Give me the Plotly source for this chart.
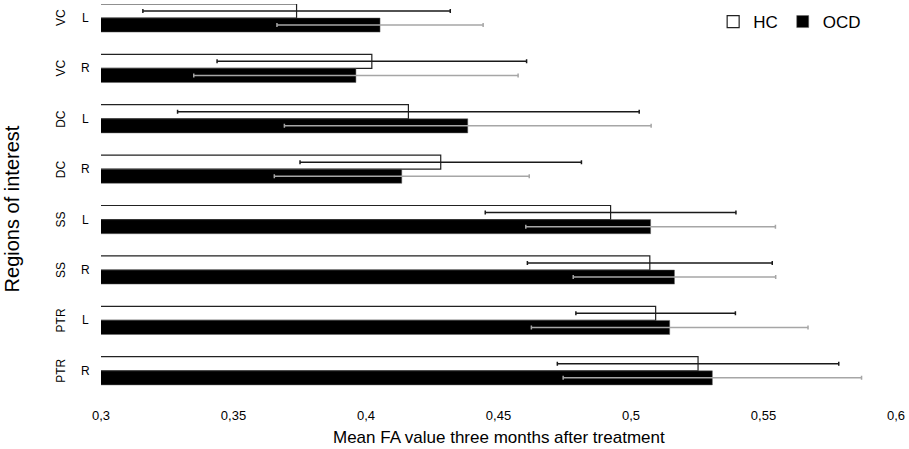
import plotly.graph_objects as go

# regions of interest, top to bottom
regions = ['VC', 'VC', 'DC', 'DC', 'SS', 'SS', 'PTR', 'PTR']
sides = ['L', 'R', 'L', 'R', 'L', 'R', 'L', 'R']
cats = [r + ' ' + s for r, s in zip(regions, sides)]

hc_mean = [0.3738, 0.4022, 0.4160, 0.4282, 0.4923, 0.5071, 0.5093, 0.5253]
hc_sd = [0.0580, 0.0584, 0.0871, 0.0531, 0.0473, 0.0462, 0.0301, 0.0531]
ocd_mean = [0.4053, 0.3962, 0.4384, 0.4135, 0.5074, 0.5164, 0.5146, 0.5307]
ocd_sd = [0.0389, 0.0612, 0.0692, 0.0481, 0.0471, 0.0382, 0.0522, 0.0563]

FONT = 'Liberation Sans, Arial, sans-serif'

fig = go.Figure()

fig.add_trace(go.Bar(
    y=cats, x=hc_mean, name='HC', orientation='h',
    marker=dict(color='white', line=dict(color='#222222', width=1.2)),
    error_x=dict(type='data', array=hc_sd, color='#1a1a1a', thickness=1.5, width=2)))

fig.add_trace(go.Bar(
    y=cats, x=ocd_mean, name='OCD', orientation='h',
    marker=dict(color='black', line=dict(color='#666666', width=0.5)),
    error_x=dict(type='data', array=ocd_sd, color='#a6a6a6', thickness=1.5, width=2)))

# two-part category labels: rotated region name + horizontal side
for c, r, s in zip(cats, regions, sides):
    fig.add_annotation(x=0, xref='paper', y=c, yref='y', text=r, textangle=-90,
                       showarrow=False, xanchor='center', xshift=-40,
                       font=dict(family=FONT, size=12, color='black'))
    fig.add_annotation(x=0, xref='paper', y=c, yref='y', text=s,
                       showarrow=False, xanchor='center', xshift=-16,
                       font=dict(family=FONT, size=12, color='black'))

fig.add_annotation(x=0, xref='paper', y=0.476, yref='paper', text='Regions of interest',
                   textangle=-90, showarrow=False, xanchor='center', yanchor='middle', xshift=-89,
                   font=dict(family=FONT, size=20, color='black'))
fig.add_annotation(x=0.5, xref='paper', y=-0.107, yref='paper',
                   text='Mean FA value three months after treatment',
                   showarrow=False, xanchor='center', yanchor='middle',
                   font=dict(family=FONT, size=17, color='black'))

fig.update_layout(
    width=909, height=449,
    margin=dict(l=101, r=13, t=4, b=53),
    barmode='group', bargap=0.44, bargroupgap=0,
    plot_bgcolor='white', paper_bgcolor='white',
    separators=', ',
    font=dict(family=FONT, color='black'),
    legend=dict(orientation='h', x=0.770, y=1.0, xanchor='left', yanchor='top',
                font=dict(family=FONT, size=17), itemwidth=30, tracegroupgap=0,
                bgcolor='rgba(0,0,0,0)'),
    xaxis=dict(range=[0.3, 0.6], dtick=0.05, tick0=0.3, showgrid=False, zeroline=False,
               showline=False, ticks='outside', ticklen=7, tickcolor='white',
               tickfont=dict(size=13), automargin=False),
    yaxis=dict(categoryorder='array', categoryarray=cats, range=[7.5, -0.278],
               showticklabels=False, showgrid=False, zeroline=False, showline=False, ticks='',
               automargin=False),
)

# drop the page's default body margin so the figure fills the window
fig.write_html("out.html", config={'displayModeBar': False},
               post_script="document.body.style.margin='0';")
